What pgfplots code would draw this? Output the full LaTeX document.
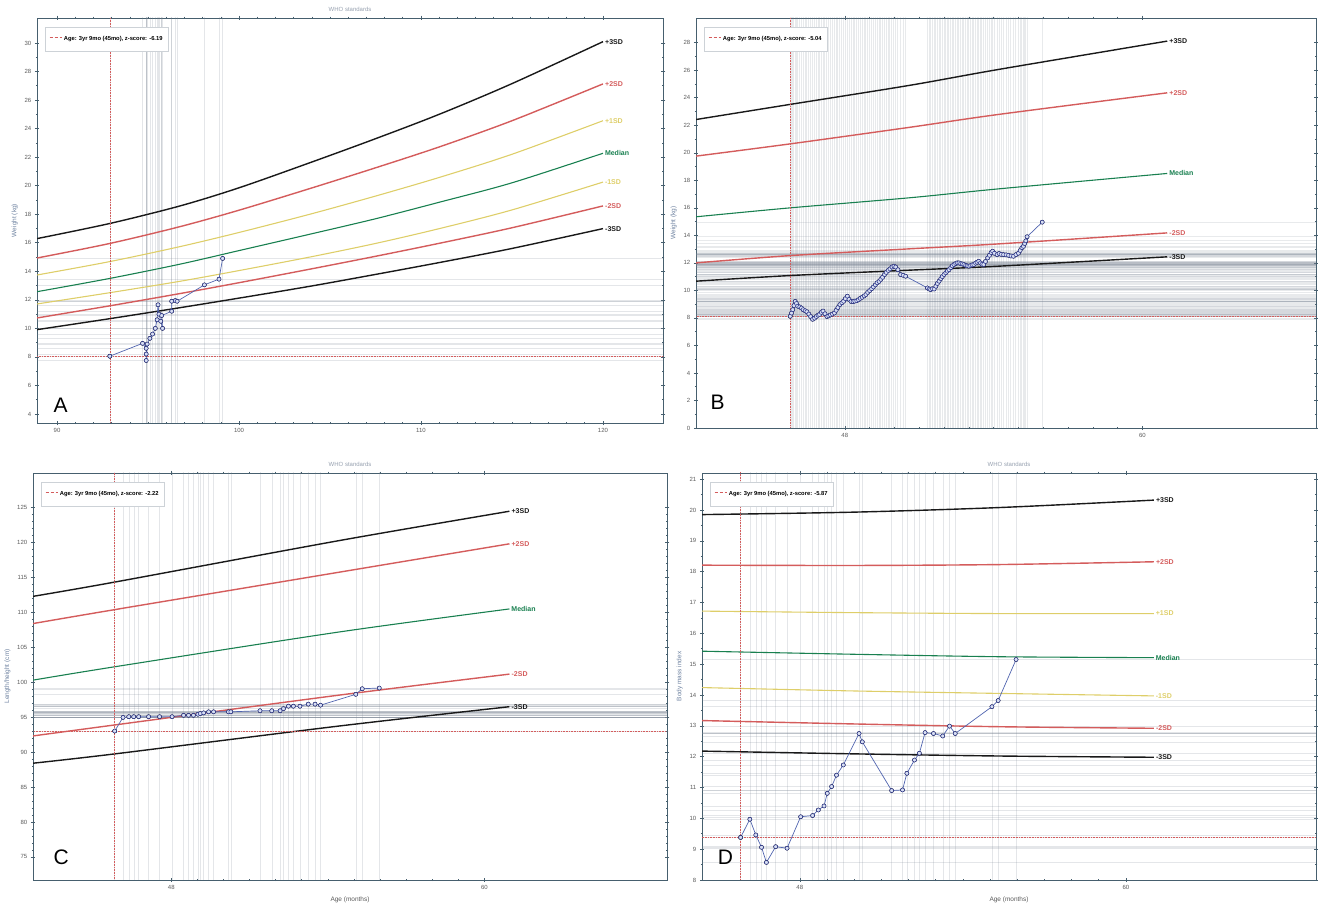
\documentclass[border=0pt]{standalone}
\usepackage{fontspec}
\setmainfont{Liberation Sans}
\usepackage{pgfplots}
\usepackage{pgfplotstable}
\pgfplotsset{compat=1.18}

\definecolor{sdblack}{RGB}{25,25,25}
\definecolor{sdred}{RGB}{212,92,92}
\definecolor{sdyellow}{RGB}{222,206,105}
\definecolor{sdgreen}{RGB}{25,128,80}
\definecolor{axcol}{RGB}{70,95,110}
\definecolor{ptline}{RGB}{80,100,175}
\definecolor{ptmark}{RGB}{40,50,140}
\definecolor{ptfill}{RGB}{215,222,242}
\definecolor{labcol}{RGB}{110,130,160}
\definecolor{titcol}{RGB}{150,160,175}
\definecolor{xhaircol}{RGB}{120,130,145}
\definecolor{tickcol}{RGB}{90,90,90}
\definecolor{legbord}{RGB}{205,210,215}

% ---------- data ----------
\pgfplotstableread{
x p3 p2 p1 m m1 m2 m3
88.9 16.29 14.93 13.74 12.57 11.71 10.73 9.91
92.9 17.35 15.95 14.68 13.50 12.50 11.58 10.68
96.76 18.58 17.13 15.73 14.50 13.30 12.44 11.45
100 19.85 18.28 16.72 15.45 14.05 13.20 12.12
103.9 21.61 19.80 18.00 16.60 15.00 14.15 12.95
107.5 23.29 21.25 19.27 17.68 15.95 15.05 13.78
111.04 25.02 22.73 20.59 18.85 17.00 15.97 14.62
115 27.15 24.55 22.20 20.20 18.30 17.05 15.60
120 30.09 27.13 24.55 22.27 20.25 18.58 16.99
}\curvesA

\pgfplotstableread{
x y
92.9 8.05
94.7 8.95
94.9 8.6
94.9 8.2
94.9 7.75
94.95 8.9
95.1 9.3
95.25 9.6
95.4 10.0
95.5 10.6
95.55 11.65
95.6 11.0
95.7 10.5
95.8 10.0
95.75 10.9
96.3 11.2
96.3 11.9
96.5 11.95
96.6 11.9
98.1 13.05
98.9 13.45
99.1 14.9
}\ptsA

\pgfplotstableread{
x p3 p2 m m2 m3
42 22.42 19.76 15.35 12.00 10.67
45.8 23.52 20.65 16.00 12.53 11.08
50.6 24.90 21.85 16.73 13.02 11.47
54.2 26.06 22.79 17.38 13.38 11.76
61 28.12 24.36 18.50 14.18 12.44
}\curvesB

\pgfplotstableread{
x y
45.80 8.12
45.85 8.35
45.90 8.60
45.95 8.90
46.00 9.20
46.05 9.05
46.10 8.85
46.18 8.80
46.25 8.72
46.32 8.60
46.40 8.52
46.47 8.45
46.55 8.28
46.62 8.10
46.70 7.90
46.78 7.98
46.85 8.10
46.92 8.20
46.98 8.25
47.05 8.40
47.12 8.50
47.20 8.30
47.28 8.10
47.35 8.15
47.42 8.22
47.50 8.28
47.58 8.36
47.65 8.55
47.72 8.75
47.80 8.97
47.88 9.10
47.95 9.21
48.02 9.40
48.10 9.58
48.17 9.35
48.25 9.20
48.33 9.18
48.40 9.22
48.48 9.25
48.55 9.32
48.62 9.42
48.70 9.50
48.78 9.60
48.85 9.70
48.92 9.85
49.00 9.98
49.08 10.12
49.15 10.25
49.23 10.40
49.30 10.55
49.38 10.65
49.45 10.80
49.52 10.95
49.60 11.15
49.67 11.30
49.75 11.45
49.82 11.56
49.90 11.70
49.98 11.76
50.05 11.70
50.14 11.50
50.25 11.15
50.35 11.10
50.45 11.03
51.33 10.18
51.40 10.10
51.46 10.06
51.53 10.12
51.60 10.10
51.67 10.30
51.73 10.50
51.80 10.67
51.87 10.85
51.93 11.00
52.00 11.15
52.07 11.28
52.13 11.40
52.20 11.50
52.27 11.65
52.33 11.78
52.40 11.88
52.47 11.95
52.53 12.00
52.60 12.00
52.67 11.95
52.73 11.92
52.80 11.88
52.87 11.82
52.93 11.78
53.00 11.76
53.07 11.80
53.13 11.85
53.20 11.88
53.27 11.98
53.33 12.05
53.40 12.12
53.47 12.00
53.53 11.90
53.60 11.88
53.67 12.10
53.76 12.36
53.83 12.55
53.90 12.75
53.96 12.85
54.03 12.70
54.14 12.60
54.22 12.68
54.30 12.62
54.40 12.60
54.50 12.58
54.60 12.55
54.70 12.50
54.80 12.48
54.90 12.60
55.00 12.70
55.07 12.90
55.14 13.10
55.20 13.20
55.25 13.40
55.30 13.60
55.35 13.90
55.96 14.96
}\ptsB

\pgfplotstableread{
x p3 p2 m m2 m3
42.7 112.26 108.37 100.28 92.30 88.40
45.83 114.30 110.36 102.19 93.87 89.73
54.46 120.25 115.73 107.18 98.15 93.73
60.96 124.43 119.77 110.46 101.14 96.48
}\curvesC

\pgfplotstableread{
x y
45.83 93.0
46.15 94.95
46.37 95.05
46.56 95.05
46.75 95.05
47.13 95.05
47.55 95.05
48.03 95.05
48.47 95.25
48.66 95.25
48.85 95.25
49.02 95.4
49.11 95.5
49.24 95.6
49.43 95.75
49.62 95.75
50.19 95.75
50.28 95.75
51.40 95.9
51.85 95.9
52.17 95.9
52.30 96.2
52.49 96.55
52.68 96.55
52.93 96.55
53.25 96.85
53.51 96.85
53.72 96.7
55.07 98.25
55.32 99.05
55.97 99.15
}\ptsC

\pgfplotstableread{
x p3 p2 p1 m m1 m2 m3
44.4 19.85 18.21 16.72 15.42 14.24 13.17 12.18
50 19.93 18.20 16.67 15.32 14.13 13.06 12.09
55.38 20.08 18.23 16.64 15.24 14.05 12.97 12.02
61.03 20.32 18.32 16.64 15.21 13.97 12.92 11.98
}\curvesD

\pgfplotstableread{
x y
45.82 9.38
46.16 9.97
46.38 9.46
46.59 9.06
46.77 8.57
47.11 9.08
47.53 9.03
48.03 10.05
48.47 10.09
48.68 10.27
48.89 10.40
49.01 10.81
49.17 11.03
49.35 11.40
49.60 11.73
50.18 12.75
50.30 12.48
51.38 10.90
51.78 10.92
51.94 11.46
52.22 11.89
52.40 12.11
52.61 12.78
52.92 12.75
53.26 12.67
53.51 12.99
53.72 12.75
55.07 13.62
55.30 13.82
55.96 15.15
}\ptsD

\tikzset{
  sdlab/.style={pos=1, anchor=west, inner sep=1.5pt, font=\fontsize{7}{8}\selectfont\bfseries, text=#1},
  letter/.style={anchor=base west, font=\fontsize{21}{21}\selectfont},
}

\pgfplotsset{
  growth/.style={
    scale only axis,
    axis line style={axcol, line width=0.8pt},
    tick style={axcol, line width=0.6pt},
    tick align=center,
    major tick length=4.5pt,
    minor tick length=2.5pt,
    ticklabel style={font=\fontsize{6}{7}\selectfont, text=tickcol},
    /pgf/number format/assume math mode=true,
    label style={font=\fontsize{6.5}{7.5}\selectfont, text=labcol},
    xlabel style={text=tickcol},
    title style={font=\fontsize{6}{7}\selectfont, text=titcol, at={(0.5,1)}, anchor=south, yshift=-3pt},
    legend style={at={(axis description cs:0,1)}, anchor=north west, xshift=8pt, yshift=-9pt,
      draw=legbord, fill=white, inner xsep=4pt, inner ysep=7pt,
      font=\fontsize{5.8}{7}\selectfont\bfseries, text=black},
    legend cell align=left,
    legend image code/.code={\draw[#1] (0pt,2pt) -- (12pt,2pt);},
  },
  xhair/.style={only marks, mark=none, forget plot,
    error bars/.cd, x dir=both, x fixed=60, y dir=both, y fixed=60, error mark=none,
    error bar style={draw=xhaircol, line width=0.4pt, opacity=#1}},
  xhair/.default=0.2,
  xhairB/.style={only marks, mark=none, forget plot,
    error bars/.cd, x dir=both, x fixed=60, y dir=both, y fixed=60, error mark=none,
    error bar style={draw=xhaircol, line width=1.0pt, opacity=0.17}},
  redhair/.style={only marks, mark=none, forget plot,
    error bars/.cd, x dir=both, x fixed=60, y dir=both, y fixed=60, error mark=none,
    error bar style={draw=sdred, line width=0.6pt, densely dotted}},
  pts/.style={color=ptline, line width=0.7pt, mark=*, mark size=2pt,
    mark options={draw=ptmark, fill=ptfill, line width=0.5pt}, forget plot},
}

\begin{document}
\begin{tikzpicture}
\useasboundingbox (0,0) rectangle (1318pt,911pt);

% ================= A =================
\begin{axis}[growth, at={(37pt,488pt)}, anchor=south west,
  width=626pt, height=405pt,
  xmin=88.9, xmax=123.3, ymin=3.37, ymax=31.75,
  xtick={90,100,110,120}, minor x tick num=9,
  ytick={4,6,...,30}, minor y tick num=1,
  ylabel={Weight (kg)}, title={WHO standards}]
\addlegendimage{sdred, densely dashed, line width=0.6pt}
\addlegendentry{Age: 3yr 9mo (45mo), z-score: -6.19}
\addplot[xhair] table[x=x,y=y] {\ptsA};
\addplot[sdblack, line width=1.4pt, smooth, forget plot] table[x=x,y=p3] {\curvesA} node[sdlab=sdblack] {+3SD};
\addplot[sdred, line width=1.4pt, smooth, forget plot] table[x=x,y=p2] {\curvesA} node[sdlab=sdred] {+2SD};
\addplot[sdyellow, line width=1.1pt, smooth, forget plot] table[x=x,y=p1] {\curvesA} node[sdlab=sdyellow] {+1SD};
\addplot[sdgreen, line width=1.1pt, smooth, forget plot] table[x=x,y=m] {\curvesA} node[sdlab=sdgreen] {Median};
\addplot[sdyellow, line width=1.1pt, smooth, forget plot] table[x=x,y=m1] {\curvesA} node[sdlab=sdyellow] {-1SD};
\addplot[sdred, line width=1.4pt, smooth, forget plot] table[x=x,y=m2] {\curvesA} node[sdlab=sdred] {-2SD};
\addplot[sdblack, line width=1.4pt, smooth, forget plot] table[x=x,y=m3] {\curvesA} node[sdlab=sdblack] {-3SD};
\addplot[redhair] coordinates {(92.9,8.05)};
\addplot[pts] table[x=x,y=y] {\ptsA};
\node[letter] at (rel axis cs:0.021,0.027) {A};
\end{axis}

% ================= B =================
\begin{axis}[growth, at={(696pt,483pt)}, anchor=south west,
  width=620pt, height=410pt,
  xmin=42, xmax=67, ymin=0, ymax=29.8,
  xtick={48,60}, minor x tick num=11,
  ytick={0,2,...,28}, minor y tick num=1,
  ylabel={Weight (kg)}]
\addlegendimage{sdred, densely dashed, line width=0.6pt}
\addlegendentry{Age: 3yr 9mo (45mo), z-score: -5.04}
\addplot[xhairB] table[x=x,y=y] {\ptsB};
\addplot[sdblack, line width=1.4pt, smooth, forget plot] table[x=x,y=p3] {\curvesB} node[sdlab=sdblack] {+3SD};
\addplot[sdred, line width=1.4pt, smooth, forget plot] table[x=x,y=p2] {\curvesB} node[sdlab=sdred] {+2SD};
\addplot[sdgreen, line width=1.1pt, smooth, forget plot] table[x=x,y=m] {\curvesB} node[sdlab=sdgreen] {Median};
\addplot[sdred, line width=1.4pt, smooth, forget plot] table[x=x,y=m2] {\curvesB} node[sdlab=sdred] {-2SD};
\addplot[sdblack, line width=1.4pt, smooth, forget plot] table[x=x,y=m3] {\curvesB} node[sdlab=sdblack] {-3SD};
\addplot[redhair] coordinates {(45.8,8.12)};
\addplot[pts] table[x=x,y=y] {\ptsB};
\node[letter] at (rel axis cs:0.018,0.046) {B};
\end{axis}

% ================= C =================
\begin{axis}[growth, at={(33pt,31pt)}, anchor=south west,
  width=634pt, height=407pt,
  xmin=42.7, xmax=67, ymin=71.7, ymax=129.9,
  xtick={48,60}, minor x tick num=11,
  ytick={75,80,...,125}, minor y tick num=4,
  ylabel={Length/height (cm)}, xlabel={Age (months)}, title={WHO standards}]
\addlegendimage{sdred, densely dashed, line width=0.6pt}
\addlegendentry{Age: 3yr 9mo (45mo), z-score: -2.22}
\addplot[xhair] table[x=x,y=y] {\ptsC};
\addplot[sdblack, line width=1.4pt, smooth, forget plot] table[x=x,y=p3] {\curvesC} node[sdlab=sdblack] {+3SD};
\addplot[sdred, line width=1.4pt, smooth, forget plot] table[x=x,y=p2] {\curvesC} node[sdlab=sdred] {+2SD};
\addplot[sdgreen, line width=1.1pt, smooth, forget plot] table[x=x,y=m] {\curvesC} node[sdlab=sdgreen] {Median};
\addplot[sdred, line width=1.4pt, smooth, forget plot] table[x=x,y=m2] {\curvesC} node[sdlab=sdred] {-2SD};
\addplot[sdblack, line width=1.4pt, smooth, forget plot] table[x=x,y=m3] {\curvesC} node[sdlab=sdblack] {-3SD};
\addplot[redhair] coordinates {(45.83,93.0)};
\addplot[pts] table[x=x,y=y] {\ptsC};
\node[letter] at (rel axis cs:0.027,0.037) {C};
\end{axis}

% ================= D =================
\begin{axis}[growth, at={(702pt,31pt)}, anchor=south west,
  width=614pt, height=407pt,
  xmin=44.4, xmax=67, ymin=8, ymax=21.2,
  xtick={48,60}, minor x tick num=11,
  ytick={8,9,...,21}, minor y tick num=1,
  ylabel={Body mass index}, xlabel={Age (months)}, title={WHO standards}]
\addlegendimage{sdred, densely dashed, line width=0.6pt}
\addlegendentry{Age: 3yr 9mo (45mo), z-score: -5.87}
\addplot[xhair] table[x=x,y=y] {\ptsD};
\addplot[sdblack, line width=1.4pt, smooth, forget plot] table[x=x,y=p3] {\curvesD} node[sdlab=sdblack] {+3SD};
\addplot[sdred, line width=1.4pt, smooth, forget plot] table[x=x,y=p2] {\curvesD} node[sdlab=sdred] {+2SD};
\addplot[sdyellow, line width=1.1pt, smooth, forget plot] table[x=x,y=p1] {\curvesD} node[sdlab=sdyellow] {+1SD};
\addplot[sdgreen, line width=1.1pt, smooth, forget plot] table[x=x,y=m] {\curvesD} node[sdlab=sdgreen] {Median};
\addplot[sdyellow, line width=1.1pt, smooth, forget plot] table[x=x,y=m1] {\curvesD} node[sdlab=sdyellow] {-1SD};
\addplot[sdred, line width=1.4pt, smooth, forget plot] table[x=x,y=m2] {\curvesD} node[sdlab=sdred] {-2SD};
\addplot[sdblack, line width=1.4pt, smooth, forget plot] table[x=x,y=m3] {\curvesD} node[sdlab=sdblack] {-3SD};
\addplot[redhair] coordinates {(45.82,9.38)};
\addplot[pts] table[x=x,y=y] {\ptsD};
\node[letter] at (rel axis cs:0.02,0.037) {D};
\end{axis}
\end{tikzpicture}
\end{document}
